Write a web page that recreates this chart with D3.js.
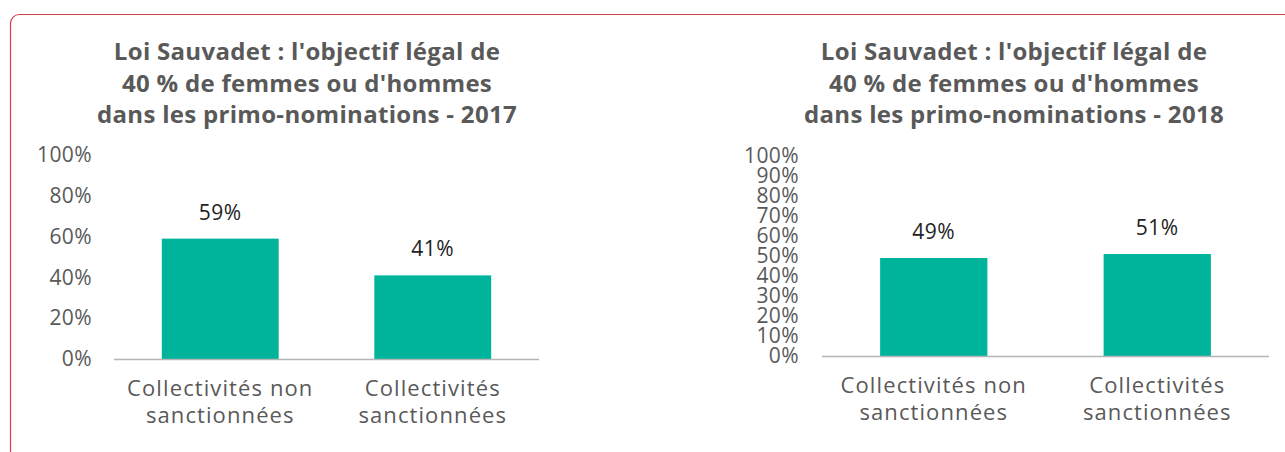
<!DOCTYPE html>
<html>
<head>
<meta charset="utf-8">
<script src="https://cdn.jsdelivr.net/npm/d3@7"></script>
<style>
  html, body { margin: 0; padding: 0; background: #fff; overflow: hidden; }
  text { font-family: "Open Sans", sans-serif; }
</style>
</head>
<body>
<script>
// data
const categories = ["Collectivités non sanctionnées", "Collectivités sanctionnées"];
const categoryLines = [["Collectivités non", "sanctionnées"], ["Collectivités", "sanctionnées"]];
const values2017 = [0.59, 0.41];
const values2018 = [0.49, 0.51];
const ticks2017 = [0, 0.2, 0.4, 0.6, 0.8, 1];
const ticks2018 = [0, 0.1, 0.2, 0.3, 0.4, 0.5, 0.6, 0.7, 0.8, 0.9, 1];
const title2017 = ["Loi Sauvadet : l'objectif légal de", "40 % de femmes ou d'hommes", "dans les primo-nominations - 2017"];
const title2018 = ["Loi Sauvadet : l'objectif légal de", "40 % de femmes ou d'hommes", "dans les primo-nominations - 2018"];

const width = 1285, height = 452;
const barColor = "#00b49c";
const textColor = "#595959";

const svg = d3.select("body").append("svg")
    .attr("width", width)
    .attr("height", height);

// red frame, only top and left edges are visible
svg.append("rect")
    .attr("x", 10.5).attr("y", 14.5)
    .attr("width", width + 40).attr("height", height + 40)
    .attr("rx", 9)
    .attr("fill", "none")
    .attr("stroke", "#d2404c")
    .attr("stroke-width", 1.2);

function drawChart(opts) {
    const g = svg.append("g");

    const x = d3.scaleBand()
        .domain(categories)
        .range([opts.left, opts.right])
        .paddingInner(opts.padInner)
        .paddingOuter(opts.padInner / 2);

    const y = d3.scaleLinear()
        .domain([0, 1])
        .range([opts.bottom, opts.top]);

    // title
    g.append("text")
        .attr("text-anchor", "middle")
        .attr("font-weight", "bold")
        .attr("font-size", 24)
        .attr("letter-spacing", 0.3)
        .attr("fill", textColor)
        .selectAll("tspan")
        .data(opts.title)
        .join("tspan")
        .attr("x", opts.titleX)
        .attr("y", (d, i) => 60 + i * 31.5)
        .text(d => d);

    // y axis
    const yAxis = g.append("g")
        .attr("transform", `translate(${opts.left},0)`)
        .call(d3.axisLeft(y)
            .tickValues(opts.ticks)
            .tickFormat(d3.format(".0%"))
            .tickSize(0)
            .tickPadding(opts.tickPad));
    yAxis.select(".domain").remove();
    yAxis.selectAll("text")
        .attr("font-family", "\"Open Sans\", sans-serif")
        .attr("font-size", 21)
        .attr("letter-spacing", 0.4)
        .attr("fill", textColor);

    // bars
    g.append("g")
        .selectAll("rect")
        .data(opts.values)
        .join("rect")
        .attr("x", (d, i) => x(categories[i]))
        .attr("y", d => y(d))
        .attr("width", x.bandwidth())
        .attr("height", d => y(0) - y(d))
        .attr("fill", barColor);

    // value labels
    g.append("g")
        .selectAll("text")
        .data(opts.values)
        .join("text")
        .attr("x", (d, i) => x(categories[i]) + x.bandwidth() / 2)
        .attr("y", d => y(d) - 19)
        .attr("text-anchor", "middle")
        .attr("font-size", 21)
        .attr("letter-spacing", 0.5)
        .attr("fill", "#222")
        .text(d3.format(".0%"));

    // baseline
    g.append("line")
        .attr("x1", opts.left).attr("x2", opts.right)
        .attr("y1", y(0) + 0.5).attr("y2", y(0) + 0.5)
        .attr("stroke", "#b5b5b5")
        .attr("stroke-width", 1.3);

    // category labels
    g.append("g")
        .selectAll("text")
        .data(categoryLines)
        .join("text")
        .attr("text-anchor", "middle")
        .attr("font-size", 22)
        .attr("letter-spacing", 1.1)
        .attr("fill", textColor)
        .each(function (lines, i) {
            d3.select(this).selectAll("tspan")
                .data(lines)
                .join("tspan")
                .attr("x", x(categories[i]) + x.bandwidth() / 2)
                .attr("y", (d, j) => y(0) + 37 + j * 27)
                .text(d => d);
        });
}

drawChart({
    title: title2017, titleX: 307, values: values2017, ticks: ticks2017,
    left: 114, right: 539, top: 155, bottom: 359, padInner: 0.45, tickPad: 22
});

drawChart({
    title: title2018, titleX: 1014, values: values2018, ticks: ticks2018,
    left: 822, right: 1269, top: 156, bottom: 356, padInner: 0.52, tickPad: 23
});
</script>
</body>
</html>
